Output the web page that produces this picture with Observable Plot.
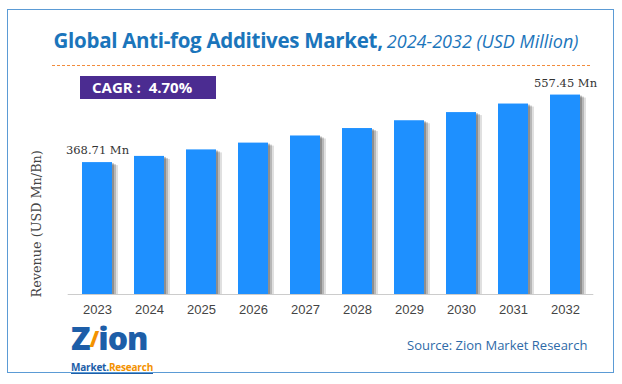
<!DOCTYPE html>
<html>
<head>
<meta charset="utf-8">
<script src="https://cdn.jsdelivr.net/npm/d3@7"></script>
<script src="https://cdn.jsdelivr.net/npm/@observablehq/plot@0.6"></script>
<style>
  html, body { margin: 0; padding: 0; background: #fff; }
  #wrap { position: relative; width: 622px; height: 384px; overflow: hidden; background: #fff; }
  #border { position: absolute; left: 7px; top: 9px; width: 607px; height: 364px; border: 1.5px solid #5b9bd5; box-sizing: border-box; }
  #title { position: absolute; left: 0; width: 632px; top: 26px; text-align: center; font-family: "Open Sans", sans-serif; color: #1b75bb; white-space: nowrap; }
  #title .b { font-weight: 700; font-size: 20.5px; letter-spacing: -0.3px; }
  #title .i { font-style: italic; font-size: 18px; font-weight: 400; }
  #dash { position: absolute; left: 52px; width: 538px; top: 65px; height: 0; border-top: 1.5px dashed #f28c3c; }
  #cagr { position: absolute; left: 80px; top: 76px; width: 136px; height: 23px; background: #4b2c91; color: #fff; font-family: "Open Sans", sans-serif; font-weight: 700; font-size: 15px; line-height: 23px; box-sizing: border-box; padding-left: 12px; }
  #source { position: absolute; left: 407px; top: 336px; font-family: "Open Sans", sans-serif; font-size: 13px; color: #2e6aa8; }
  #logo { position: absolute; left: 71px; top: 322px; font-family: "Open Sans", sans-serif; }
  #logo .zion { font-size: 32px; font-weight: 800; color: #1d5ea8; line-height: 32px; letter-spacing: -1px; }
  #logo .mr { font-size: 10px; font-weight: 700; line-height: 11px; border-bottom: 1px solid #1d5ea8; display: inline-block; letter-spacing: -0.2px; }
  #logo .mr .m { color: #1d5ea8; }
  #logo .mr .r { color: #f39200; }
  #chart { position: absolute; left: 0; top: 0; }
</style>
</head>
<body>
<div id="wrap">
  <div id="chart"></div>
  <div id="border"></div>
  <div id="title"><span class="b">Global Anti-fog Additives Market,</span> <span class="i">2024-2032 (USD Million)</span></div>
  <div id="dash"></div>
  <div id="cagr">CAGR :&nbsp; 4.70%</div>
  <div id="logo">
    <div class="zion">Z<span style="color:#f39200;font-size:22px;vertical-align:top">/</span>ion</div>
    <div class="mr"><span class="m">Market.</span><span class="r">Research</span></div>
  </div>
  <div id="source">Source: Zion Market Research</div>
</div>
<script>
const years = ["2023","2024","2025","2026","2027","2028","2029","2030","2031","2032"];
const revenue = [368.71, 386.0, 404.2, 423.2, 443.1, 463.9, 485.7, 508.5, 532.4, 557.45];
const valueLabels = ["368.71 Mn", "", "", "", "", "", "", "", "", "557.45 Mn"];

const data = years.map((y, i) => ({year: y, value: revenue[i], label: valueLabels[i]}));

const chart = Plot.plot({
  width: 622,
  height: 384,
  marginTop: 40,
  marginBottom: 90,
  marginLeft: 67.7,
  marginRight: 28.7,
  style: {background: "transparent", overflow: "visible"},
  x: {domain: years, paddingInner: 0.43, paddingOuter: 0.215, label: null, tickSize: 0, tickPadding: 10},
  y: {domain: [0, 710], axis: null},
  marks: [
    // soft shadow behind each bar
    Plot.barY(data, {x: "year", y: "value", fill: "#000", fillOpacity: 0.12, dx: 6, dy: 3, insetBottom: 3}),
    Plot.barY(data, {x: "year", y: "value", fill: "#000", fillOpacity: 0.18, dx: 4, dy: 2, insetBottom: 2}),
    Plot.barY(data, {x: "year", y: "value", fill: "#000", fillOpacity: 0.22, dx: 2, dy: 1, insetBottom: 1}),
    Plot.barY(data, {x: "year", y: "value", fill: "#1e90ff"}),
    Plot.ruleY([0], {stroke: "#cccccc", strokeWidth: 1}),
    Plot.text(data.filter(d => d.label), {x: "year", y: "value", text: "label", dy: -12, fontFamily: "DejaVu Serif", fontSize: 11.5, fill: "#333"}),
    Plot.axisX({tickSize: 0, tickPadding: 10, fontSize: 13, fontFamily: "Liberation Sans", fill: "#444", label: null}),
    Plot.text(["Revenue (USD Mn/Bn)"], {frameAnchor: "bottom-left", textAnchor: "start", dx: -27, dy: 3, rotate: -90, fontFamily: "DejaVu Serif", fontSize: 12.8, fill: "#444"})
  ]
});
document.getElementById("chart").appendChild(chart);
</script>
</body>
</html>
